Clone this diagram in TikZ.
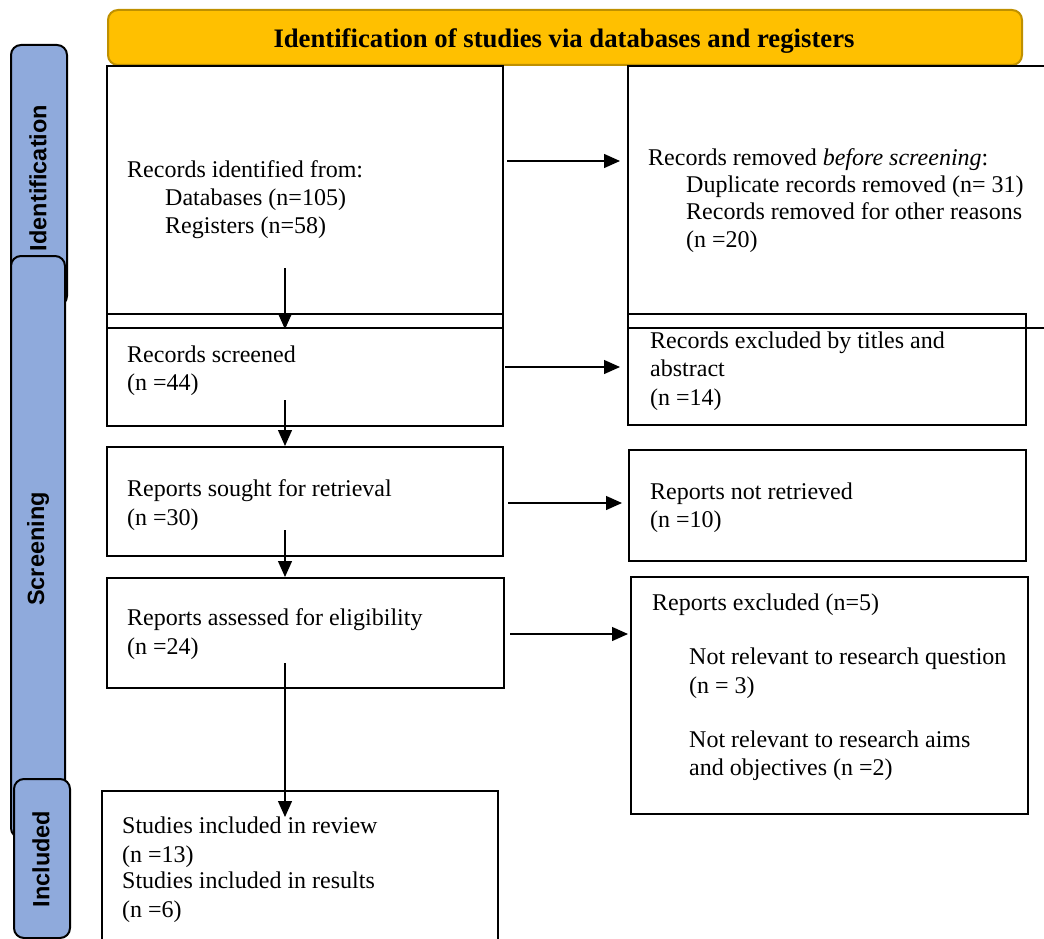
\documentclass[tikz,border=0pt]{standalone}
\usepackage{fontspec}
\setmainfont{Liberation Serif}
\newfontfamily\labfont{Liberation Sans}
\usetikzlibrary{arrows.meta}
\definecolor{hdrfill}{HTML}{FFC000}
\definecolor{hdrline}{HTML}{BF9000}
\definecolor{barfill}{HTML}{8FAADC}
\begin{document}
\begin{tikzpicture}[x=1pt,y=-1pt,
  flowbox/.style={draw, line width=2.2pt, inner sep=0pt, anchor=north west},
  phasebar/.style={draw=black, line width=2pt, fill=barfill, rounded corners=10pt, inner sep=0pt, anchor=north west},
  phaselabel/.style={rotate=90, inner sep=0pt, font=\labfont\bfseries\fontsize{23.5}{28}\selectfont},
  txt/.style={anchor=base west, inner sep=0pt, font=\fontsize{24}{28}\selectfont},
  arr/.style={line width=1.3pt, -{Triangle[length=16pt,width=14pt]}}]
\clip (0,0) rectangle (1044,939);
\useasboundingbox (0,0) rectangle (1044,939);
% header
\node[draw=hdrline, fill=hdrfill, line width=2pt, rounded corners=10pt, inner sep=0pt,
  anchor=north west, minimum width=914pt, minimum height=55pt] (hdr) at (107,9) {};
\node[anchor=base, inner sep=0pt, font=\bfseries\fontsize{26.7}{30}\selectfont] (hdrtxt) at (564,48)
  {Identification of studies via databases and registers};
% phase bars
\node[phasebar, minimum width=56pt, minimum height=261pt] (barI) at (10,44) {};
\node[phasebar, minimum width=54pt, minimum height=582pt] (barS) at (10,255) {};
\node[phasebar, minimum width=56pt, minimum height=159pt] (barN) at (13,778) {};
\node[phaselabel] (labI) at (38,178) {Identification};
\node[phaselabel] (labS) at (38,549) {Screening};
\node[phaselabel] (labN) at (41,859) {Included};
% boxes
\node[flowbox, minimum width=396pt, minimum height=262pt] (b1) at (106,65) {};
\node[flowbox, minimum width=423pt, minimum height=262pt] (bA) at (627,65) {};
\node[flowbox, minimum width=396pt, minimum height=112pt] (b2) at (106,313) {};
\node[flowbox, minimum width=398pt, minimum height=111pt] (bB) at (627,313) {};
\node[flowbox, minimum width=396pt, minimum height=109pt] (b3) at (106,446) {};
\node[flowbox, minimum width=397pt, minimum height=111pt] (bC) at (628,449) {};
\node[flowbox, minimum width=397pt, minimum height=110pt] (b4) at (106,577) {};
\node[flowbox, minimum width=397pt, minimum height=237pt] (bD) at (630,576) {};
\node[flowbox, minimum width=396pt, minimum height=160pt] (b5) at (101,790) {};
% texts
\node[txt] (t1a) at (127,177) {Records identified from:};
\node[txt] (t1b) at (165,205) {Databases (n=105)};
\node[txt] (t1c) at (165,233) {Registers (n=58)};
\node[txt] (tAa) at (648,165) {Records removed \textit{before screening}:};
\node[txt] (tAb) at (686,192) {Duplicate records removed (n= 31)};
\node[txt] (tAc) at (686,219) {Records removed for other reasons};
\node[txt] (tAd) at (686,247) {(n =20)};
\node[txt] (t2a) at (127,362) {Records screened};
\node[txt] (t2b) at (127,390) {(n =44)};
\node[txt] (tBa) at (650,348) {Records excluded by titles and};
\node[txt] (tBb) at (650,376) {abstract};
\node[txt] (tBc) at (650,405) {(n =14)};
\node[txt] (t3a) at (127,496) {Reports sought for retrieval};
\node[txt] (t3b) at (127,525) {(n =30)};
\node[txt] (tCa) at (650,499) {Reports not retrieved};
\node[txt] (tCb) at (650,527) {(n =10)};
\node[txt] (t4a) at (127,625) {Reports assessed for eligibility};
\node[txt] (t4b) at (127,654) {(n =24)};
\node[txt] (tDa) at (652,610) {Reports excluded (n=5)};
\node[txt] (tDb) at (689,664) {Not relevant to research question};
\node[txt] (tDc) at (689,693) {(n = 3)};
\node[txt] (tDd) at (689,747) {Not relevant to research aims};
\node[txt] (tDe) at (689,775) {and objectives (n =2)};
\node[txt] (t5a) at (122,833) {Studies included in review};
\node[txt] (t5b) at (122,862) {(n =13)};
\node[txt] (t5c) at (122,888) {Studies included in results};
\node[txt] (t5d) at (122,917) {(n =6)};
% arrows
\coordinate (v1s) at (285,268);
\coordinate (v2s) at (285,400);
\coordinate (v3s) at (285,530);
\coordinate (v4s) at (285,663);
\coordinate (v4e) at (285,817);
\draw[arr] (v1s) -- (b1.south -| v1s);
\draw[arr] (v2s) -- (b3.north -| v2s);
\draw[arr] (v3s) -- (b4.north -| v3s);
\draw[arr] (v4s) -- (v4e);
\coordinate (h1s) at (507,161);
\coordinate (h2s) at (505,367);
\coordinate (h3s) at (508,503);
\coordinate (h4s) at (510,634);
\draw[arr] (h1s) -- ([xshift=-7pt]bA.west |- h1s);
\draw[arr] (h2s) -- ([xshift=-7pt]bB.west |- h2s);
\draw[arr] (h3s) -- ([xshift=-6pt]bC.west |- h3s);
\draw[arr] (h4s) -- ([xshift=-2pt]bD.west |- h4s);
\end{tikzpicture}
\end{document}
